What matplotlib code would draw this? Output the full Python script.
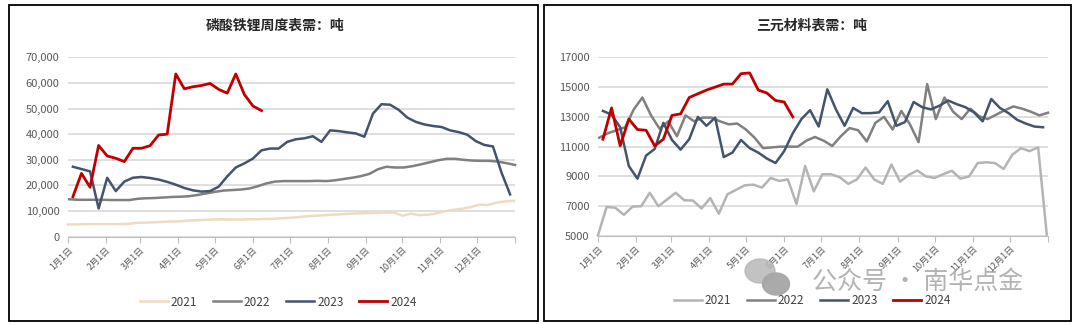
import matplotlib
matplotlib.use("Agg")
import matplotlib.pyplot as plt
from matplotlib.patches import Rectangle, Ellipse

plt.rcParams['font.family'] = ['Noto Sans CJK SC', 'DejaVu Sans']

# 月份刻度 (一年中的第几天)
month_days = [0, 31, 59, 90, 120, 151, 181, 212, 243, 273, 304, 334, 365]
month_labels = [f'{m}月1日' for m in range(1, 13)]

years = ['2021', '2022', '2023', '2024']

# 磷酸铁锂周度表需 (吨), 每周一个点
lfp_start = {'2021': 0, '2022': 1, '2023': 4, '2024': 4}
lfp_2021 = [4800, 4800, 4900, 4900, 4900, 4900, 4900, 5000, 5400, 5500,
            5600, 5800, 5900, 6000, 6300, 6400, 6600, 6700, 6800, 6700,
            6700, 6800, 6800, 6900, 7000, 7200, 7400, 7700, 8000, 8200,
            8400, 8600, 8800, 9000, 9100, 9200, 9300, 9400, 9400, 8200,
            9000, 8400, 8600, 9100, 10000, 10500, 10900, 11600, 12500, 12400,
            13300, 13800, 14000]
lfp_2022 = [14600, 14400, 14400, 14400, 14400, 14300, 14300, 14300, 14800, 15000,
            15100, 15300, 15500, 15600, 15800, 16300, 16900, 17500, 18000, 18200,
            18400, 18800, 19700, 20800, 21500, 21700, 21700, 21700, 21700, 21800,
            21700, 22000, 22500, 23000, 23600, 24500, 26300, 27300, 27000, 27000,
            27500, 28200, 29000, 29800, 30400, 30400, 30000, 29700, 29600, 29600,
            29300, 28700, 28000]
lfp_2023 = [27300, 26400, 25500, 11000, 23000, 17800, 21500, 23000, 23300, 22900,
            22300, 21400, 20300, 19000, 18100, 17600, 17800, 19500, 23500, 27000,
            28600, 30500, 33700, 34400, 34400, 37000, 38000, 38400, 39200, 37000,
            41500, 41200, 40700, 40300, 39000, 48000, 51700, 51500, 49500, 46500,
            44800, 43800, 43200, 42800, 41500, 40800, 39800, 37300, 35800, 35200,
            25000, 16500]
lfp_2024 = [15600, 24700, 19300, 35600, 31500, 30600, 29300, 34500, 34500, 35500,
            39700, 40000, 63500, 57700, 58500, 59000, 59800, 57500, 56000, 63500,
            55500, 51000, 49200]

# 三元材料表需 (吨)
ncm_start = {'2021': 0, '2022': 1, '2023': 4, '2024': 4}
ncm_2021 = [5050, 6950, 6900, 6420, 6970, 7000, 7900, 7000, 7450, 7900,
            7400, 7380, 6850, 7550, 6500, 7800, 8100, 8400, 8450, 8250,
            8900, 8700, 8800, 7150, 9700, 8000, 9150, 9150, 8950, 8500,
            8800, 9600, 8800, 8500, 9800, 8650, 9100, 9400, 9000, 8900,
            9150, 9380, 8850, 9000, 9900, 9950, 9900, 9500, 10450, 10900,
            10700, 10950, 5100]
ncm_2022 = [11600, 11900, 12100, 12300, 13500, 14300, 13100, 12200, 12700, 11700,
            13100, 12700, 12950, 12950, 12700, 12500, 12550, 12150, 11600, 10900,
            10950, 11000, 11000, 11000, 11400, 11650, 11400, 11050, 11700, 12250,
            12100, 11350, 12600, 13000, 12150, 13400, 12500, 11300, 15200, 12850,
            14300, 13350, 12850, 13550, 13050, 12850, 13150, 13450, 13700, 13550,
            13350, 13100, 13280]
ncm_2023 = [13400, 13150, 12300, 9700, 8850, 10400, 10850, 12600, 11450, 10800,
            11500, 13000, 12400, 12950, 10300, 10600, 11450, 10900, 10600, 10200,
            9900, 10700, 11900, 12850, 13450, 12350, 14850, 13500, 12400, 13600,
            13250, 13250, 13300, 14050, 12400, 12650, 14000, 13650, 13500, 13750,
            14100, 13850, 13650, 13300, 12700, 14200, 13600, 13250, 12800, 12550,
            12350, 12300]
ncm_2024 = [11500, 13600, 11050, 12850, 12150, 12100, 11050, 11500, 13100, 13200,
            14300, 14550, 14800, 15000, 15200, 15200, 15900, 15950, 14800, 14600,
            14100, 14000, 13000]

lfp = {'2021': lfp_2021, '2022': lfp_2022, '2023': lfp_2023, '2024': lfp_2024}
ncm = {'2021': ncm_2021, '2022': ncm_2022, '2023': ncm_2023, '2024': ncm_2024}

lfp_colors = {'2021': '#eedcc0', '2022': '#808080', '2023': '#44546a', '2024': '#c00000'}
ncm_colors = {'2021': '#b4b4b4', '2022': '#808080', '2023': '#44546a', '2024': '#c00000'}

W, H = 1080, 325
fig = plt.figure(figsize=(W / 100, H / 100), dpi=100)

# 面板外框
for x0, x1 in [(9, 538), (544, 1071)]:
    fig.patches.append(Rectangle((x0 / W, 1 - 321 / H), (x1 - x0) / W, (321 - 5) / H,
                                 transform=fig.transFigure, fill=False,
                                 edgecolor='black', linewidth=1.3))


def make_axes(px0, px1, py_top, py_bot):
    return fig.add_axes([px0 / W, 1 - py_bot / H, (px1 - px0) / W, (py_bot - py_top) / H])


def style(ax, ylim, yticks, ylabels):
    ax.set_xlim(0, 365)
    ax.set_ylim(*ylim)
    ax.set_yticks(yticks)
    ax.set_yticklabels(ylabels, fontsize=8, color='#595959')
    ax.set_xticks(month_days)
    ax.set_xticklabels(month_labels + [''], fontsize=6.5, color='#595959',
                       rotation=45, ha='right', rotation_mode='anchor')
    ax.tick_params(axis='y', length=0, pad=6)
    ax.tick_params(axis='x', length=4, color='#bfbfbf', pad=2)
    for s in ['top', 'right', 'left']:
        ax.spines[s].set_visible(False)
    ax.spines['bottom'].set_color('#bfbfbf')
    ax.grid(axis='y', color='#d9d9d9', linewidth=1.2)
    ax.set_axisbelow(True)


def draw(ax, data, starts, colors):
    handles = []
    for y in years:
        vals = data[y]
        xs = [starts[y] + 7 * i for i in range(len(vals))]
        lw = 2.0 if y == '2024' else 1.8
        h, = ax.plot(xs, vals, color=colors[y], linewidth=lw, label=y,
                     solid_joinstyle='round', clip_on=False)
        handles.append(h)
    return handles


legend_kw = dict(loc='center', ncol=4, frameon=False, fontsize=8.5,
                 handlelength=2.4, columnspacing=1.3, handletextpad=0.25,
                 labelcolor='#404040')

# 左: 磷酸铁锂
ax1 = make_axes(68, 515, 57.3, 236.7)
style(ax1, (0, 70000), range(0, 70001, 10000),
      ['0'] + [f'{v:,}' for v in range(10000, 70001, 10000)])
h1 = draw(ax1, lfp, lfp_start, lfp_colors)
fig.text(275 / W, 1 - 26 / H, '磷酸铁锂周度表需：吨', ha='center', va='center',
         fontsize=10, fontweight='bold', color='#262626')
fig.legend(h1, years, bbox_to_anchor=(278 / W, 1 - 302 / H), **legend_kw)

# 右: 三元材料
ax2 = make_axes(598, 1048, 57.3, 236)
style(ax2, (5000, 17000), range(5000, 17001, 2000),
      [str(v) for v in range(5000, 17001, 2000)])
h2 = draw(ax2, ncm, ncm_start, ncm_colors)
fig.text(812 / W, 1 - 26 / H, '三元材料表需：吨', ha='center', va='center',
         fontsize=10, fontweight='bold', color='#262626')
fig.legend(h2, years, bbox_to_anchor=(812 / W, 1 - 301 / H), **legend_kw)

# 水印
wm = '#a6a6a6'
fig.patches.append(Ellipse((760 / W, 1 - 271 / H), 30 / W, 24 / H,
                           transform=fig.transFigure, color='#b8b8b8', alpha=0.85))
fig.patches.append(Ellipse((776 / W, 1 - 284 / H), 27 / W, 22 / H,
                           transform=fig.transFigure, color=wm, alpha=0.95))
fig.text(918 / W, 1 - 282 / H, '公众号 · 南华点金', ha='center', va='center',
         fontsize=18, color=wm, alpha=0.85)

fig.savefig('out.png', dpi=100)
